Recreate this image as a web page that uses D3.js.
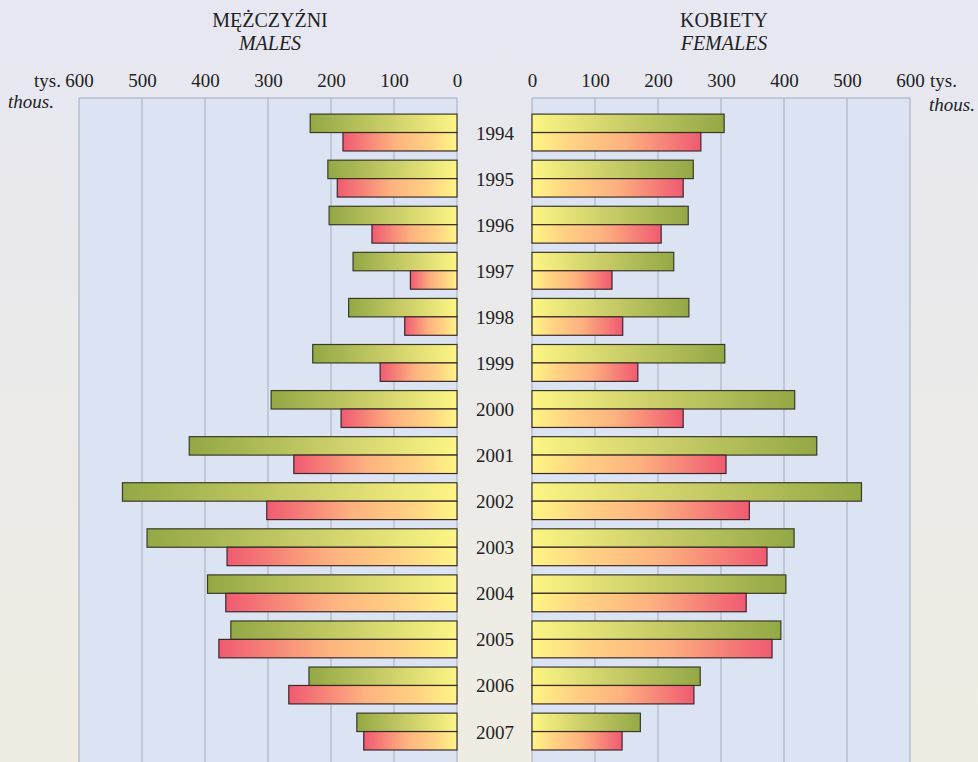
<!DOCTYPE html>
<html>
<head>
<meta charset="utf-8">
<script src="https://cdn.jsdelivr.net/npm/d3@7"></script>
<style>
	body { margin: 0; }
	svg { display: block; }
	svg text { font-family: "Liberation Serif", "DejaVu Serif", serif; }
</style>
</head>
<body>
<div id="chart"></div>
<script>
// years, top to bottom
var years = [ 1994, 1995, 1996, 1997, 1998, 1999, 2000, 2001, 2002, 2003, 2004, 2005, 2006, 2007 ];

// males (tys.), upper green bar and lower red bar
var malesGreen = [ 233, 205, 203, 165, 172, 229, 295, 425, 531, 492, 396, 359, 235, 159 ];
var malesRed = [ 181, 190, 135, 74, 83, 122, 184, 259, 302, 365, 367, 378, 267, 148 ];

// females (tys.)
var femalesGreen = [ 305, 256, 248, 225, 249, 306, 417, 452, 523, 416, 403, 395, 267, 172 ];
var femalesRed = [ 268, 240, 205, 127, 144, 168, 240, 308, 345, 373, 340, 381, 257, 143 ];

var ticks = [ 0, 100, 200, 300, 400, 500, 600 ];

var width = 978;
var height = 762;

var svg = d3.select('#chart').append('svg').attr('width', width).attr('height', height);
var defs = svg.append('defs');

// page background
var bg = defs.append('linearGradient').attr('id', 'bg').attr('x1', 0).attr('y1', 0).attr('x2', 0).attr('y2', 1);
bg.append('stop').attr('offset', '0%').attr('stop-color', '#e6e7f1');
bg.append('stop').attr('offset', '100%').attr('stop-color', '#efede2');
svg.append('rect').attr('width', width).attr('height', height).attr('fill', 'url(#bg)');

// bar gradients, L = dark end on the left
function grad(id, stops) {
	var g = defs.append('linearGradient').attr('id', id).attr('x1', 0).attr('y1', 0).attr('x2', 1).attr('y2', 0);
	stops.forEach((s) => g.append('stop').attr('offset', s[0]).attr('stop-color', s[1]));
}
grad('greenL', [ [ '0%', '#93a845' ], [ '55%', '#cdd06a' ], [ '100%', '#fdf585' ] ]);
grad('greenR', [ [ '0%', '#fdf585' ], [ '45%', '#cdd06a' ], [ '100%', '#93a845' ] ]);
grad('redL', [ [ '0%', '#f05a72' ], [ '45%', '#fdb27f' ], [ '75%', '#ffd183' ], [ '100%', '#fff585' ] ]);
grad('redR', [ [ '0%', '#fff585' ], [ '25%', '#ffd183' ], [ '55%', '#fdb27f' ], [ '100%', '#f05a72' ] ]);

var plotTop = 98;

var xL = d3.scaleLinear().domain([ 0, 600 ]).range([ 457, 79 ]);
var xR = d3.scaleLinear().domain([ 0, 600 ]).range([ 532, 910 ]);

var y = d3.scaleBand().domain(years).range([ 109.5, 754.6 ]).paddingInner(0.2).paddingOuter(0.1);
var bh = y.bandwidth() / 2;

function panel(x, greens, reds, side) {
	var x0 = Math.min(x.range()[0], x.range()[1]);
	var x1 = Math.max(x.range()[0], x.range()[1]);
	svg.append('rect').attr('x', x0).attr('y', plotTop).attr('width', x1 - x0).attr('height', height - plotTop).attr('fill', '#dce3f2');

	svg.append('g').selectAll('line').data(ticks).enter().append('line')
		.attr('x1', (d) => x(d)).attr('x2', (d) => x(d))
		.attr('y1', plotTop).attr('y2', height)
		.attr('stroke', '#b7bece').attr('stroke-width', 1.5);
	svg.append('line').attr('x1', x0).attr('x2', x1).attr('y1', plotTop).attr('y2', plotTop)
		.attr('stroke', '#b7bece').attr('stroke-width', 1.5);

	svg.append('g').attr('transform', `translate(0,87)`)
		.call(d3.axisTop(x).tickValues(ticks).tickSize(0).tickPadding(0))
		.call((g) => g.select('.domain').remove())
		.call((g) => g.attr('font-size', 19))
		.call((g) => g.selectAll('text').attr('fill', '#222').attr('dy', 0));

	var bars = svg.append('g');
	var s = side === 'l' ? 'L' : 'R';
	function drawSet(vals, fill, stroke, off) {
		bars.selectAll(null).data(vals).enter().append('rect')
			.attr('x', (d) => Math.min(x(0), x(d)))
			.attr('y', (d, i) => y(years[i]) + off)
			.attr('width', (d) => Math.abs(x(d) - x(0)))
			.attr('height', bh)
			.attr('fill', fill)
			.attr('stroke', stroke)
			.attr('stroke-width', 1.2);
	}
	drawSet(greens, 'url(#green' + s + ')', '#3a3a2a', 0);
	drawSet(reds, 'url(#red' + s + ')', '#3a2a2a', bh);
}

panel(xL, malesGreen, malesRed, 'l');
panel(xR, femalesGreen, femalesRed, 'r');

// year labels
svg.append('g').selectAll('text').data(years).enter().append('text')
	.attr('x', 495)
	.attr('y', (d) => y(d) + y.bandwidth() / 2 + 7)
	.attr('text-anchor', 'middle')
	.attr('font-size', 19)
	.attr('fill', '#222')
	.text((d) => d);

// titles and units
function txt(x, yy, s, anchor, italic, size) {
	svg.append('text').attr('x', x).attr('y', yy).attr('text-anchor', anchor)
		.attr('font-size', size || 19).attr('fill', '#222')
		.attr('font-style', italic ? 'italic' : 'normal').text(s);
}
txt(270, 27, 'MĘŻCZYŹNI', 'middle', false, 20);
txt(270, 50, 'MALES', 'middle', true, 20);
txt(724, 27, 'KOBIETY', 'middle', false, 20);
txt(724, 50, 'FEMALES', 'middle', true, 20);
txt(61, 87, 'tys.', 'end', false);
txt(8, 108, 'thous.', 'start', true);
txt(930, 87, 'tys.', 'start', false);
txt(975, 111, 'thous.', 'end', true);
</script>
</body>
</html>
